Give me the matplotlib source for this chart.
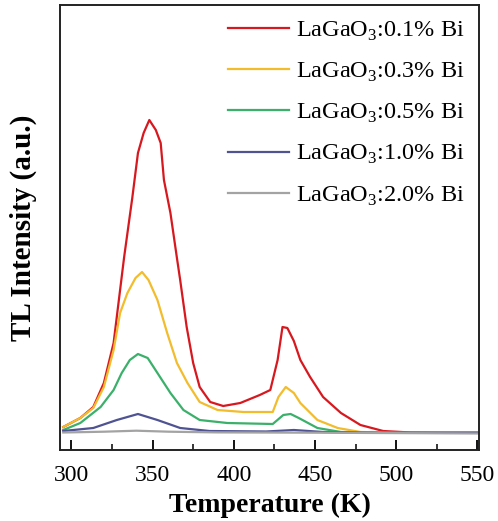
import matplotlib
matplotlib.use("Agg")
import matplotlib.pyplot as plt
from matplotlib.ticker import MultipleLocator

plt.rcParams['font.family'] = ['Liberation Serif', 'DejaVu Serif']
plt.rcParams['mathtext.fontset'] = 'custom'
plt.rcParams['mathtext.rm'] = 'Liberation Serif'

labels = ["LaGaO$_\\mathregular{3}$:0.1% Bi", "LaGaO$_\\mathregular{3}$:0.3% Bi",
          "LaGaO$_\\mathregular{3}$:0.5% Bi", "LaGaO$_\\mathregular{3}$:1.0% Bi",
          "LaGaO$_\\mathregular{3}$:2.0% Bi"]
colors = ["#D7191F", "#F2BC2C", "#3BB06A", "#4F5392", "#A3A3A3"]

t_red = [295, 305.5, 313.5, 320, 326, 330, 332.5, 337.5, 341, 344.5, 348, 352, 355, 357, 361, 365,
         367, 371, 375, 379, 385.5, 393.5, 404, 416, 422.5, 427, 430, 433, 437, 441, 447, 455, 466,
         478, 492, 509, 530, 552]
i_red = [6, 15, 26, 50, 90, 143, 176, 235, 280, 300, 313, 303, 290, 253, 220, 175,
         153, 106, 70, 46, 31, 27, 30, 38, 43, 73, 106, 105, 92, 73, 56, 36, 20,
         8, 2, 0.5, 0.2, 0.2]

t_yel = [295, 305.5, 313.5, 320, 326, 330, 334.5, 339.5, 343.5, 347.5, 353, 359, 365, 371.5, 379,
         390, 406, 424, 427.5, 432, 437, 441, 451.5, 464, 478, 500, 552]
i_yel = [6, 15, 25, 46, 83, 120, 140, 155, 161, 153, 133, 100, 70, 50, 31,
         23, 21, 21, 36, 46, 40, 30, 13, 5, 1, 0.3, 0.3]

t_grn = [295, 305.5, 318, 326, 331, 336, 341, 347, 353, 361, 369, 379, 396, 424, 430.5, 435, 440,
         451.5, 466, 490, 552]
i_grn = [3, 10, 26, 43, 60, 73, 79, 75, 60, 40, 23, 13, 10, 9, 18, 19, 15,
         5, 1, 0.3, 0.3]

t_blu = [295, 313.5, 328, 341, 353, 367, 385, 420, 437, 455, 480, 552]
i_blu = [2, 5, 13, 19, 13, 5, 2, 1.5, 3, 1, 0.2, 0.2]

t_gry = [295, 320, 340, 360, 390, 450, 552]
i_gry = [0.5, 1.3, 2.3, 1.3, 0.6, 0.3, -0.5]

series = [(t_red, i_red), (t_yel, i_yel), (t_grn, i_grn), (t_blu, i_blu), (t_gry, i_gry)]

fig = plt.figure(figsize=(4.98, 5.21), dpi=100)
ax = fig.add_axes([60/498, 1 - 450/521, 419/498, 445/521])

for (t, i), c, lab in zip(series, colors, labels):
    ax.plot(t, i, color=c, lw=1.6, label=lab)

ax.set_xlim(293, 551)
ax.set_ylim(-17, 428)
ax.xaxis.set_major_locator(MultipleLocator(50))
ax.xaxis.set_minor_locator(MultipleLocator(25))
ax.set_yticks([])
ax.tick_params(axis='x', which='major', direction='in', length=7, width=1.3, labelsize=17, pad=11)
ax.tick_params(axis='x', which='minor', direction='in', length=4, width=1.1)
for s in ax.spines.values():
    s.set_linewidth(1.4)
    s.set_color('#222222')

ax.set_xlabel("Temperature (K)", fontsize=20, fontweight='bold', labelpad=5)
ax.set_ylabel("TL Intensity (a.u.)", fontsize=21, fontweight='bold')
ax.yaxis.set_label_coords(-0.055, 0.5)

leg = ax.legend(loc='upper right', frameon=False, fontsize=17.5, handlelength=2.5,
                labelspacing=0.74, handletextpad=0.3, borderpad=0.3, borderaxespad=0.3)

fig.savefig("out.png", dpi=100)
